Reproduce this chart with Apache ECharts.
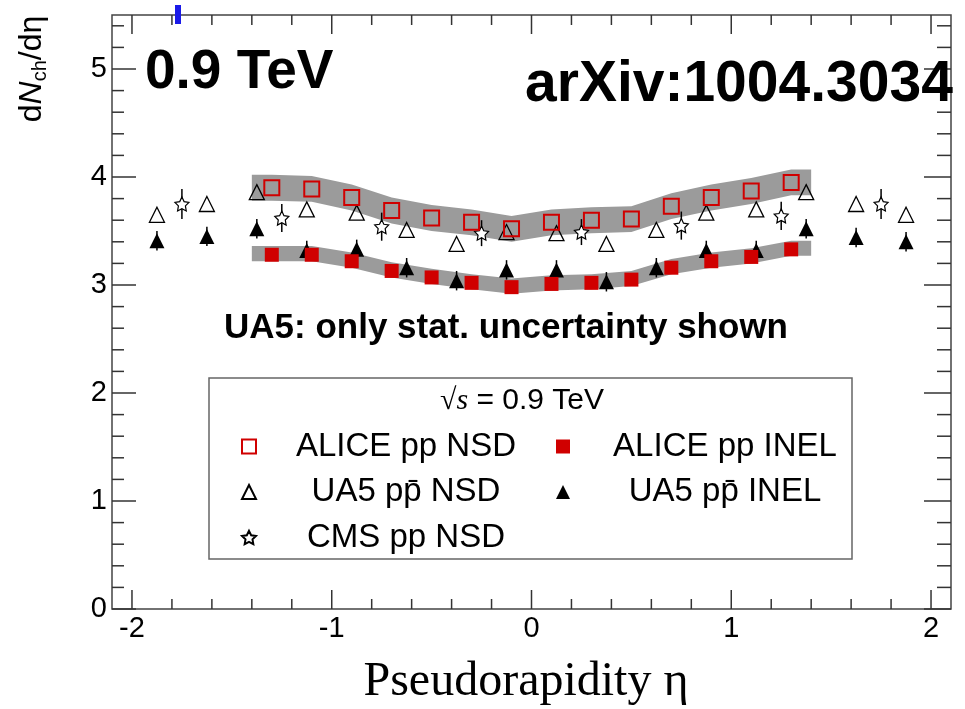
<!DOCTYPE html>
<html><head><meta charset="utf-8">
<script src="https://cdn.jsdelivr.net/npm/echarts@6/dist/echarts.min.js"></script>
<style>html,body{margin:0;padding:0;background:#fff}#c{width:965px;height:709px}</style>
</head><body><div id="c"></div>
<script>
// ---------------- data ----------------
const aliceEta  = [-1.3,-1.1,-0.9,-0.7,-0.5,-0.3,-0.1,0.1,0.3,0.5,0.7,0.9,1.1,1.3];
const aliceNSD  = [3.90,3.89,3.81,3.69,3.62,3.58,3.52,3.58,3.60,3.61,3.73,3.81,3.87,3.95];
const aliceINEL = [3.28,3.28,3.22,3.13,3.07,3.02,2.98,3.01,3.02,3.05,3.16,3.22,3.26,3.33];
const aliceNSDSysUp = 0.12, aliceNSDSysDown = 0.12;
const aliceINELSysUp = 0.08, aliceINELSysDown = 0.06;
const bandEdges = [-1.4, 1.4];

const ua5Eta  = [-1.875,-1.625,-1.375,-1.125,-0.875,-0.625,-0.375,-0.125,0.125,0.375,0.625,0.875,1.125,1.375,1.625,1.875];
const ua5NSD  = [3.65,3.75,3.86,3.70,3.67,3.51,3.38,3.49,3.48,3.38,3.51,3.67,3.70,3.86,3.75,3.65];
const ua5INEL = [3.41,3.45,3.52,3.32,3.33,3.16,3.04,3.14,3.14,3.03,3.16,3.32,3.32,3.52,3.44,3.40];
const ua5INELErr = 0.09;

const cmsEta = [-1.75,-1.25,-0.75,-0.25,0.25,0.75,1.25,1.75];
const cmsNSD = [3.75,3.62,3.54,3.48,3.49,3.55,3.64,3.75];
const cmsErr = [0.14,0.13,0.13,0.12,0.12,0.13,0.13,0.14];

const xMajorTicks = [-2,-1,0,1,2];
const xMinorTicks = [-1.8,-1.6,-1.4,-1.2,-0.8,-0.6,-0.4,-0.2,0.2,0.4,0.6,0.8,1.2,1.4,1.6,1.8];
const yMajorTicks = [0,1,2,3,4,5];
const yMinorTicks = [0.2,0.4,0.6,0.8,1.2,1.4,1.6,1.8,2.2,2.4,2.6,2.8,3.2,3.4,3.6,3.8,4.2,4.4,4.6,4.8,5.2,5.4];

const names = {
  aNSD: 'ALICE pp NSD', aINEL: 'ALICE pp INEL',
  uNSD: 'UA5 pp\u0304 NSD', uINEL: 'UA5 pp\u0304 INEL', cNSD: 'CMS pp NSD'
};

// ---------------- helpers ----------------
const X_MIN = -2.1, X_MAX = 2.1, Y_MIN = 0, Y_MAX = 5.5;
const RED = '#d00000';
const STAR = 'path://M0,-10L2.94,-4.05L9.51,-3.09L4.76,1.55L5.88,8.09L0,5L-5.88,8.09L-4.76,1.55L-9.51,-3.09L-2.94,-4.05Z';
const SANS = 'Liberation Sans, Arial, Helvetica, sans-serif';
const SERIF = 'Liberation Serif, Times New Roman, serif';

function zip(xs, ys) { return xs.map((x, i) => [x, ys[i]]); }
function bandNodes(eta, val, up, dn) {
  const xs = [bandEdges[0]].concat(eta, [bandEdges[1]]);
  const vs = [val[0]].concat(val, [val[val.length - 1]]);
  return xs.map((x, i) => [x, vs[i] - dn, vs[i] + up]);
}
function bandSeries(nodes) {
  return {
    type: 'custom', silent: true, z: 1,
    data: [[nodes[0][0], nodes[0][1]]],
    renderItem: (params, api) => {
      const upper = nodes.map(n => api.coord([n[0], n[2]]));
      const lower = nodes.slice().reverse().map(n => api.coord([n[0], n[1]]));
      return { type: 'polygon', shape: { points: upper.concat(lower) }, style: { fill: '#9b9b9b' } };
    }
  };
}
function errSeries(xs, ys, errs) {
  return {
    type: 'custom', silent: true, z: 2,
    data: xs.map((x, i) => [x, ys[i] - (Array.isArray(errs) ? errs[i] : errs), ys[i] + (Array.isArray(errs) ? errs[i] : errs)]),
    encode: { x: 0, y: [1, 2] },
    renderItem: (params, api) => {
      const a = api.coord([api.value(0), api.value(1)]);
      const b = api.coord([api.value(0), api.value(2)]);
      return { type: 'line', shape: { x1: a[0], y1: a[1], x2: b[0], y2: b[1] }, style: { stroke: '#000', lineWidth: 1.5 } };
    }
  };
}
const tickData = [].concat(
  xMajorTicks.map(v => [v, 0, 1]), xMinorTicks.map(v => [v, 0, 0]),
  yMajorTicks.map(v => [v, 1, 1]), yMinorTicks.map(v => [v, 1, 0])
);
const tickSeries = {
  type: 'custom', silent: true, z: 5,
  data: tickData,
  renderItem: (params, api) => {
    const cs = params.coordSys;
    const v = api.value(0), isY = api.value(1), major = api.value(2);
    const style = { stroke: '#333', lineWidth: 1.5 };
    if (!isY) {
      const px = api.coord([v, Y_MIN])[0];
      const L = major ? 19 : 10;
      const b = cs.y + cs.height, t = cs.y;
      return { type: 'group', children: [
        { type: 'line', shape: { x1: px, y1: b, x2: px, y2: b - L }, style },
        { type: 'line', shape: { x1: px, y1: t, x2: px, y2: t + L }, style }
      ] };
    }
    const py = api.coord([X_MIN, v])[1];
    const l = cs.x, r = cs.x + cs.width;
    return { type: 'group', children: [
      { type: 'line', shape: { x1: l, y1: py, x2: l + (major ? 24 : 12), y2: py }, style },
      { type: 'line', shape: { x1: r, y1: py, x2: r - (major ? 27 : 14), y2: py }, style }
    ] };
  }
};
const intLabel = v => (Math.abs(v - Math.round(v)) < 1e-6 ? String(Math.round(v)) : '');
const legendCommon = {
  orient: 'vertical', top: 430, itemWidth: 14, itemHeight: 14, itemGap: 12.5, padding: 0,
  selectedMode: false, formatter: n => '{t|' + n + '}'
};

// ---------------- chart ----------------
const chart = echarts.init(document.getElementById('c'), null, { renderer: 'canvas' });
chart.setOption({
  animation: false,
  backgroundColor: '#fff',
  grid: { left: 112, right: 14, top: 15, bottom: 100, show: true, borderColor: '#444', borderWidth: 1.5,
          backgroundColor: 'transparent', containLabel: false, outerBoundsMode: 'none' },
  xAxis: {
    type: 'value', min: X_MIN, max: X_MAX, interval: 0.1,
    axisLine: { show: false }, axisTick: { show: false }, splitLine: { show: false },
    axisLabel: { formatter: intLabel, fontSize: 29, fontFamily: SANS, color: '#000', margin: 5 }
  },
  yAxis: {
    type: 'value', min: Y_MIN, max: Y_MAX, interval: 1,
    axisLine: { show: false }, axisTick: { show: false }, splitLine: { show: false },
    axisLabel: { formatter: intLabel, fontSize: 29, fontFamily: SANS, color: '#000', margin: 5 }
  },
  legend: [
    Object.assign({}, legendCommon, {
      left: 241, data: [names.aNSD, names.uNSD, names.cNSD],
      textStyle: { color: '#000', fontFamily: SANS, fontSize: 33,
        rich: { t: { width: 290, align: 'center', fontSize: 33, lineHeight: 33, fontFamily: SANS, color: '#000' } } }
    }),
    Object.assign({}, legendCommon, {
      left: 556, data: [names.aINEL, names.uINEL],
      textStyle: { color: '#000', fontFamily: SANS, fontSize: 33,
        rich: { t: { width: 300, align: 'center', fontSize: 33, lineHeight: 33, fontFamily: SANS, color: '#000' } } }
    })
  ],
  graphic: [
    { type: 'rect', z: 0, shape: { x: 209, y: 378, width: 643, height: 181 },
      style: { fill: '#fff', stroke: '#666', lineWidth: 1.5 } },
    { type: 'text', z: 10, x: 522, y: 401,
      style: { text: '{r|\u221A}{s|s}{n| = 0.9 TeV}', align: 'center', verticalAlign: 'middle',
        rich: { r: { fontFamily: SERIF, fontSize: 30, fill: '#000' },
                s: { fontFamily: SERIF, fontStyle: 'italic', fontSize: 30, fill: '#000' },
                n: { fontFamily: SANS, fontSize: 30, fill: '#000' } } } },
    { type: 'text', z: 10, x: 145, y: 73,
      style: { text: '0.9 TeV', fontFamily: SANS, fontWeight: 'bold', fontSize: 55, fill: '#000',
               align: 'left', verticalAlign: 'middle' } },
    { type: 'text', z: 10, x: 525, y: 85,
      style: { text: 'arXiv:1004.3034', fontFamily: SANS, fontWeight: 'bold', fontSize: 57, fill: '#000',
               align: 'left', verticalAlign: 'middle' } },
    { type: 'text', z: 10, x: 506, y: 328,
      style: { text: 'UA5: only stat. uncertainty shown', fontFamily: SANS, fontWeight: 'bold', fontSize: 35,
               fill: '#000', align: 'center', verticalAlign: 'middle' } },
    { type: 'text', z: 10, x: 32, y: 69, rotation: Math.PI / 2,
      style: { text: '{a|d}{i|N}{s|ch}{a|/d\u03B7}', align: 'center', verticalAlign: 'middle',
        rich: { a: { fontFamily: SANS, fontSize: 32, lineHeight: 36, verticalAlign: 'middle', fill: '#000' },
                i: { fontFamily: SANS, fontStyle: 'italic', fontSize: 32, lineHeight: 36, verticalAlign: 'middle', fill: '#000' },
                s: { fontFamily: SANS, fontSize: 20, verticalAlign: 'bottom', fill: '#000' } } } },
    { type: 'text', z: 10, x: 526, y: 682,
      style: { text: 'Pseudorapidity \u03B7', fontFamily: SERIF, fontSize: 48, fill: '#000',
               align: 'center', verticalAlign: 'middle' } },
    { type: 'rect', z: 10, shape: { x: 175, y: 5, width: 6, height: 19 }, style: { fill: '#1a1ae8' } }
  ],
  series: [
    bandSeries(bandNodes(aliceEta, aliceNSD, aliceNSDSysUp, aliceNSDSysDown)),
    bandSeries(bandNodes(aliceEta, aliceINEL, aliceINELSysUp, aliceINELSysDown)),
    errSeries(cmsEta, cmsNSD, cmsErr),
    errSeries(ua5Eta, ua5INEL, ua5INELErr),
    { name: names.uNSD, type: 'scatter', z: 3, symbol: 'triangle', symbolSize: 15,
      itemStyle: { color: 'rgba(0,0,0,0)', borderColor: '#000', borderWidth: 1.3, opacity: 1 },
      data: zip(ua5Eta, ua5NSD) },
    { name: names.uINEL, type: 'scatter', z: 3, symbol: 'triangle', symbolSize: 15,
      itemStyle: { color: '#000', opacity: 1 }, data: zip(ua5Eta, ua5INEL) },
    { name: names.cNSD, type: 'scatter', z: 3, symbol: STAR, symbolSize: 14,
      itemStyle: { color: '#fff', borderColor: '#000', borderWidth: 1.2, opacity: 1 }, data: zip(cmsEta, cmsNSD) },
    { name: names.aNSD, type: 'scatter', z: 4, symbol: 'rect', symbolSize: 15,
      itemStyle: { color: 'rgba(0,0,0,0)', borderColor: RED, borderWidth: 2, opacity: 1 }, data: zip(aliceEta, aliceNSD) },
    { name: names.aINEL, type: 'scatter', z: 4, symbol: 'rect', symbolSize: 14,
      itemStyle: { color: RED, opacity: 1 }, data: zip(aliceEta, aliceINEL) },
    tickSeries
  ]
});
</script></body></html>
